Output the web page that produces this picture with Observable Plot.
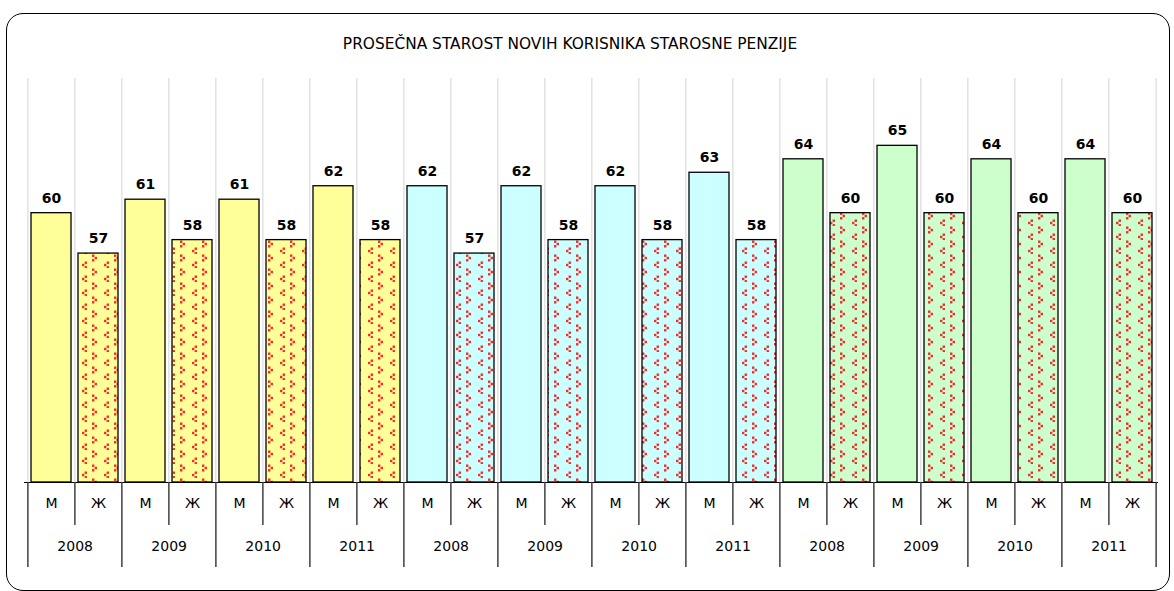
<!DOCTYPE html>
<html><head><meta charset="utf-8">
<script src="https://cdn.jsdelivr.net/npm/d3@7"></script>
<script src="https://cdn.jsdelivr.net/npm/@observablehq/plot@0.6"></script>
<style>
body{margin:0;background:#fff;}
#wrap{position:relative;width:1174px;height:591px;overflow:hidden;font-family:"DejaVu Sans",sans-serif;}
#frame{position:absolute;left:6px;top:13px;width:1164px;height:578px;border:1.6px solid #000;border-radius:17px;box-sizing:border-box;}
#title{position:absolute;left:0;width:1140px;top:35px;text-align:center;font-size:15.4px;line-height:18px;color:#000;}
#chart{position:absolute;left:0;top:0;}
</style></head><body>
<div id="wrap"><div id="frame"></div><div id="title">PROSEČNA STAROST NOVIH KORISNIKA STAROSNE PENZIJE</div><div id="chart"></div></div>
<script>
// Data
const groups = ["g1","g2","g3"];           // three unlabeled groups of years
const years = ["2008","2009","2010","2011"];
const sexes = ["М","Ж"];
const maleValues   = [[60,61,61,62],[62,62,62,63],[64,65,64,64]];
const femaleValues = [[57,58,58,58],[57,58,58,58],[60,60,60,60]];
const groupColors = ["#ffff99","#ccffff","#ccffcc"];

const rows = [];
groups.forEach((g, gi) => years.forEach((yr, yi) => sexes.forEach((s, si) => {
  rows.push({
    id: String(rows.length),
    group: gi, year: yr, sex: s,
    value: si === 0 ? maleValues[gi][yi] : femaleValues[gi][yi],
    fill: si === 0 ? groupColors[gi] : `url(#pat${gi})`
  });
})));
const ids = rows.map(d => d.id);

const W = 1174, H = 591, mL = 24, mR = 16, mT = 78, mB = 109;
const step = (W - mL - mR) / ids.length;
const frameH = H - mT - mB;

const leftEdges = ids;
const lastEdge = [ids[ids.length - 1]];
const shortEdges = ids.filter((d, i) => i % 2 === 1);
const longEdges = ids.filter((d, i) => i % 2 === 0);
const yearRows = rows.filter((d, i) => i % 2 === 0);

const plot = Plot.plot({
  width: W, height: H,
  marginLeft: mL, marginRight: mR, marginTop: mT, marginBottom: mB,
  style: {fontFamily: "DejaVu Sans, sans-serif", background: "transparent", overflow: "visible"},
  x: {type: "band", domain: ids, paddingInner: 0.15, paddingOuter: 0.075, axis: null},
  y: {domain: [40, 70], axis: null},
  color: {type: "identity"},
  marks: [
    Plot.ruleX(leftEdges, {x: d => d, dx: -step / 2, stroke: "#d2d2d2", strokeWidth: 1}),
    Plot.ruleX(lastEdge, {x: d => d, dx: step / 2, stroke: "#d2d2d2", strokeWidth: 1}),
    Plot.barY(rows, {x: "id", y1: 40, y2: "value", fill: "fill", stroke: "#000", strokeWidth: 1.3}),
    Plot.text(rows, {x: "id", y: "value", text: d => String(d.value), dy: -15, fontSize: 14, fontWeight: "bold", fill: "#000"}),
    Plot.ruleY([40], {stroke: "#000", strokeWidth: 1.2}),
    Plot.ruleX(shortEdges, {x: d => d, dx: -step / 2, insetTop: frameH, insetBottom: -43, stroke: "#404040", strokeWidth: 1.5}),
    Plot.ruleX(longEdges, {x: d => d, dx: -step / 2, insetTop: frameH, insetBottom: -85, stroke: "#404040", strokeWidth: 1.5}),
    Plot.ruleX(lastEdge, {x: d => d, dx: step / 2, insetTop: frameH, insetBottom: -85, stroke: "#404040", strokeWidth: 1.5}),
    Plot.text(rows, {x: "id", text: "sex", frameAnchor: "bottom", dy: 25, fontSize: 14, fill: "#000"}),
    Plot.text(yearRows, {x: "id", text: "year", frameAnchor: "bottom", dx: step / 2, dy: 68, fontSize: 14, fill: "#000"})
  ]
});

// patterns for female bars
const svg = d3.select(plot);
const defs = svg.insert("defs", ":first-child");
groupColors.forEach((c, gi) => {
  const p = defs.append("pattern").attr("id", `pat${gi}`).attr("patternUnits", "userSpaceOnUse")
    .attr("width", 22).attr("height", 14).attr("x", 2).attr("y", 2);
  p.append("rect").attr("width", 22).attr("height", 14).attr("fill", c);
  const dot = (x, y) => p.append("rect").attr("x", x).attr("y", y).attr("width", 2.4).attr("height", 2.4).attr("fill", "#f52a2a");
  // ">" shape
  dot(2, 0.5); dot(4.6, 2.8); dot(2, 5.1);
  // "<" shape
  dot(16.6, 7.5); dot(14, 9.8); dot(16.6, 12.1);
});
document.getElementById("chart").appendChild(plot);
</script>
</body></html>
